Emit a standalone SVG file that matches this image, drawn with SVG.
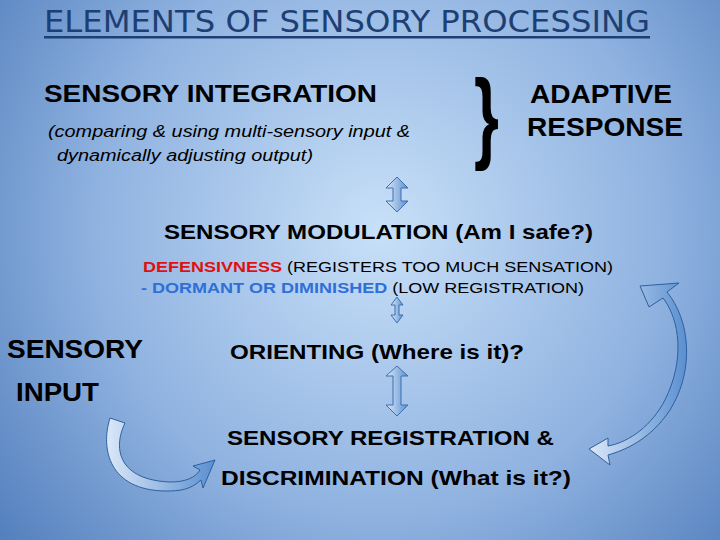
<svg xmlns="http://www.w3.org/2000/svg" width="720" height="540" viewBox="0 0 720 540">
<defs>
<radialGradient id="bg" cx="380" cy="230" r="520" gradientUnits="userSpaceOnUse">
<stop offset="0" stop-color="#c8e0f8"/><stop offset="0.55" stop-color="#8fb2e0"/><stop offset="1" stop-color="#4a78b8"/>
</radialGradient>
<linearGradient id="arr" x1="0" y1="0" x2="1" y2="0">
<stop offset="0" stop-color="#dbe8f8"/><stop offset="1" stop-color="#5a8fd0"/>
</linearGradient>
<style>
.t{font-family:Arial,"Liberation Sans",sans-serif;fill:#000;font-weight:bold}
.n{font-weight:normal}
.da{fill:url(#arr);stroke:#3e6fb0;stroke-width:1}
.ca{fill:url(#arr);stroke:#2f5f9f;stroke-width:1}
</style>
</defs>
<rect width="720" height="540" fill="url(#bg)"/>
<g id="title">
<text x="44" y="32" font-family="'DejaVu Sans Condensed','DejaVu Sans',sans-serif" font-size="30" fill="#1d3f73" textLength="606" lengthAdjust="spacingAndGlyphs">ELEMENTS OF SENSORY PROCESSING</text>
<rect x="44" y="36" width="606" height="2.5" fill="#1d3f73"/>
</g>
<g id="integration">
<text class="t" x="44" y="102" font-size="23" textLength="333" lengthAdjust="spacingAndGlyphs">SENSORY INTEGRATION</text>
<text class="t n" x="48" y="137" font-size="16" font-style="italic" textLength="362" lengthAdjust="spacingAndGlyphs">(comparing &amp; using multi-sensory input &amp;</text>
<text class="t n" x="57" y="161" font-size="16" font-style="italic" textLength="256" lengthAdjust="spacingAndGlyphs">dynamically adjusting output)</text>
</g>
<g id="brace"><text class="t" x="0" y="0" font-size="80" font-family="'Liberation Serif',serif" transform="translate(474,150) scale(0.8,1.25)">}</text></g>
<g id="adaptive">
<text class="t" x="530" y="103" font-size="26" textLength="142" lengthAdjust="spacingAndGlyphs">ADAPTIVE</text>
<text class="t" x="527" y="136" font-size="26" textLength="156" lengthAdjust="spacingAndGlyphs">RESPONSE</text>
</g>
<g id="modulation">
<text class="t" x="164" y="239" font-size="21" textLength="429" lengthAdjust="spacingAndGlyphs">SENSORY MODULATION (Am I safe?)</text>
<text x="143" y="272" font-size="15" class="t n" textLength="470" lengthAdjust="spacingAndGlyphs"><tspan font-weight="bold" fill="#e01010">DEFENSIVNESS</tspan> (REGISTERS TOO MUCH SENSATION)</text>
<text x="141" y="293" font-size="15" class="t n" textLength="443" lengthAdjust="spacingAndGlyphs"><tspan font-weight="bold" fill="#2f6fd8">- DORMANT OR DIMINISHED</tspan> (LOW REGISTRATION)</text>
</g>
<g id="input">
<text class="t" x="7" y="358" font-size="26" textLength="136" lengthAdjust="spacingAndGlyphs">SENSORY</text>
<text class="t" x="16" y="401" font-size="26" textLength="83" lengthAdjust="spacingAndGlyphs">INPUT</text>
</g>
<g id="orienting"><text class="t" x="230" y="359" font-size="21" textLength="294" lengthAdjust="spacingAndGlyphs">ORIENTING (Where is it)?</text></g>
<g id="registration">
<text class="t" x="227" y="445" font-size="21" textLength="327" lengthAdjust="spacingAndGlyphs">SENSORY REGISTRATION &amp;</text>
<text class="t" x="221" y="485" font-size="21" textLength="350" lengthAdjust="spacingAndGlyphs">DISCRIMINATION  (What is it?)</text>
</g>
<g id="connectors">
<path class="da" d="M397,177 L408,188 L401,188 L401,201 L408,201 L397,212 L386,201 L393,201 L393,188 L386,188 Z"/>
<path class="da" d="M397,297 L403,305 L399,305 L399,315 L403,315 L397,323 L391,315 L395,315 L395,305 L391,305 Z"/>
<path class="da" d="M397,366 L408,376 L401,376 L401,405 L408,405 L397,416 L386,405 L393,405 L393,376 L386,376 Z"/>
<path class="ca" d="M110,418 L125,423 C112,450 120,480 170,482 C185,482 195,478 200,470 L193,466 L215,460 L203,488 L201,480 C190,490 180,491 165,491 C110,490 100,450 110,418 Z"/>
<path class="ca" d="M640,286 L679,283 L667,292 C690,320 695,370 670,410 C650,440 625,450 608,455 L610,465 L589,449 L608,438 L608,446 C630,442 652,425 665,400 C685,360 680,320 663,298 L649,307 Z"/>
</g>
</svg>
